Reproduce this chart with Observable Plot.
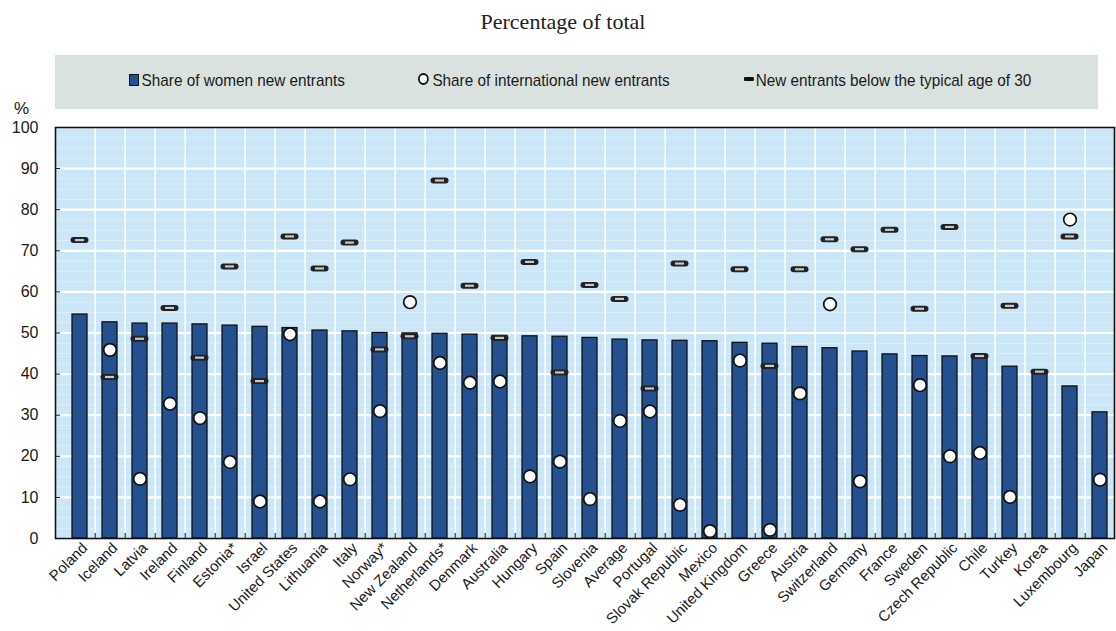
<!DOCTYPE html>
<html>
<head>
<meta charset="utf-8">
<script src="https://cdn.jsdelivr.net/npm/d3@7"></script>
<script src="https://cdn.jsdelivr.net/npm/@observablehq/plot@0.6"></script>
<style>
  body { margin: 0; background: #ffffff; }
  #wrap { position: relative; width: 1116px; height: 631px; overflow: hidden;
          font-family: "Liberation Sans", Arial, sans-serif; color: #1a1a1a; }
  #title { position: absolute; top: 9px; left: 363px; width: 400px; text-align: center;
           font-family: "Liberation Serif", "Times New Roman", serif; font-size: 22px; color: #222; }
  #legend { position: absolute; left: 55px; top: 55px; width: 1043px; height: 54px; background: #dae2e0; }
  .item { position: absolute; top: 16px; font-size: 17px; line-height: 20px; white-space: nowrap;
          transform: scaleX(0.9); transform-origin: left center; }
  .sq { display: inline-block; width: 9px; height: 10px; background: #24508f; border: 1.5px solid #111; margin-right: 3px; vertical-align: 0px; }
  .ci { display: inline-block; width: 8px; height: 8px; border-radius: 50%; background: #fff; border: 2.2px solid #111; margin-right: 4px; vertical-align: 1px; }
  .da { display: inline-block; width: 11px; height: 4px; background: #111; margin-right: 2px; vertical-align: 5px; border-radius: 1px; }
  #pct { position: absolute; left: 14px; top: 99px; font-size: 17px; }
  #chart { position: absolute; left: 0; top: 110px; }
</style>
</head>
<body>
<div id="wrap">
  <div id="title">Percentage of total</div>
  <div id="legend">
    <div class="item" style="left:74px"><span class="sq"></span>Share of women new entrants</div>
    <div class="item" style="left:363px"><span class="ci"></span>Share of international new entrants</div>
    <div class="item" style="left:689px"><span class="da"></span>New entrants below the typical age of 30</div>
  </div>
  <div id="pct">%</div>
  <div id="chart"></div>
</div>
<script>
const categories = ["Poland","Iceland","Latvia","Ireland","Finland","Estonia*","Israel","United States","Lithuania","Italy","Norway*","New Zealand","Netherlands*","Denmark","Australia","Hungary","Spain","Slovenia","Average","Portugal","Slovak Republic","Mexico","United Kingdom","Greece","Austria","Switzerland","Germany","France","Sweden","Czech Republic","Chile","Turkey","Korea","Luxembourg","Japan"];

const womenShare = [54.5, 52.6, 52.3, 52.3, 52.1, 51.8, 51.5, 51.2, 50.6, 50.4, 50.0, 49.9, 49.8, 49.6, 49.3, 49.2, 49.1, 48.8, 48.4, 48.2, 48.1, 48.0, 47.6, 47.4, 46.6, 46.3, 45.5, 44.8, 44.4, 44.3, 44.0, 41.8, 40.2, 37.0, 30.7];

const internationalShare = [null, 45.9, 14.5, 32.8, 29.3, 18.6, 9.0, 49.7, 9.0, 14.4, 31.0, 57.5, 42.7, 37.9, 38.2, 15.1, 18.7, 9.6, 28.6, 30.9, 8.2, 1.8, 43.3, 2.1, 35.3, 57.0, 13.9, null, 37.3, 20.0, 20.8, 10.1, null, 77.6, 14.3];

const belowAge30 = [72.6, 39.3, 48.6, 56.1, 44.0, 66.2, 38.3, 73.5, 65.7, 72.0, 46.0, 49.2, 87.1, 61.5, 48.8, 67.3, 40.4, 61.7, 58.3, 36.5, 66.9, null, 65.5, 42.0, 65.5, 72.8, 70.4, 75.1, 55.9, 75.8, 44.4, 56.6, 40.6, 73.5, null];

const yTicks = [0, 10, 20, 30, 40, 50, 60, 70, 80, 90, 100];
const yMinor = d3.range(0, 100, 2.5);

const rows = categories.map((c, i) => ({
  country: c, women: womenShare[i], intl: internationalShare[i], young: belowAge30[i]
}));
const intlRows = rows.filter(d => d.intl != null);
const youngRows = rows.filter(d => d.young != null);

const W = 1116, H = 521, mL = 55, mR = 2, mT = 17, mB = 93;
const pInner = 0.5, pOuter = 0.15, align = 0.7;
const step = (W - mL - mR) / (categories.length - pInner + 2 * pOuter);
const font = '"Liberation Sans", Arial, sans-serif';

const chart = Plot.plot({
  width: W, height: H,
  marginLeft: mL, marginRight: mR, marginTop: mT, marginBottom: mB,
  style: { background: "transparent", fontFamily: font, fontSize: "15px", color: "#1a1a1a" },
  x: { domain: categories, paddingInner: pInner, paddingOuter: pOuter, align, label: null },
  y: { domain: [0, 100], label: null },
  marks: [
    Plot.frame({ fill: "#cae6f7", stroke: null }),
    Plot.gridY({ ticks: yMinor, stroke: "white", strokeOpacity: 0.35, strokeWidth: 1 }),
    Plot.gridX({ ticks: categories.slice(0, -1), stroke: "white", strokeOpacity: 1, strokeWidth: 1.6, dx: step / 2 }),
    Plot.gridY({ ticks: yTicks, stroke: "white", strokeOpacity: 1, strokeWidth: 2.2 }),
    Plot.barY(rows, { x: "country", y: "women", fill: "#24508f", stroke: "#111", strokeWidth: 1.3 }),
    Plot.tickY(youngRows, { x: "country", y: "young", stroke: "#222", strokeWidth: 6, strokeLinecap: "round", insetLeft: 1.5, insetRight: 1.5 }),
    Plot.tickY(youngRows, { x: "country", y: "young", stroke: "#c8c8c8", strokeWidth: 2.2, insetLeft: 3, insetRight: 3 }),
    Plot.dot(intlRows, { x: "country", y: "intl", r: 6.3, fill: "white", stroke: "#111", strokeWidth: 1.7 }),
    Plot.axisY({ ticks: yTicks, tickSize: 0, tickPadding: 17, fontSize: 16 }),
    Plot.axisY({ ticks: yTicks, tickSize: 5, text: null, dx: 5, stroke: "#111" }),
    Plot.axisX({ tickSize: 0, tickPadding: 7, tickRotate: -45, fontSize: 15, dx: 5 }),
    Plot.axisX({ ticks: categories.slice(0, -1), tickSize: 5, text: null, dx: step / 2, dy: -5, stroke: "#111" }),
    Plot.frame({ stroke: "#111", strokeWidth: 1.6 })
  ]
});
document.getElementById("chart").appendChild(chart);
</script>
</body>
</html>
